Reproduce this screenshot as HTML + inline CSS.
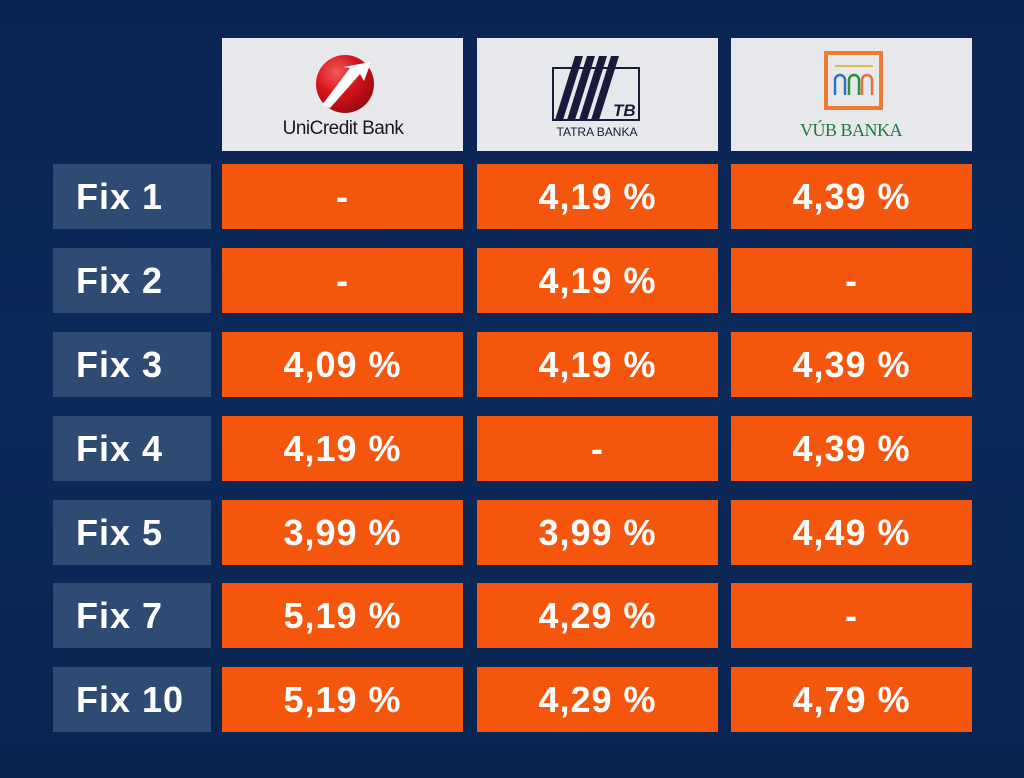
<!DOCTYPE html>
<html><head><meta charset="utf-8"><style>
*{margin:0;padding:0;box-sizing:border-box}
body{width:1024px;height:778px;overflow:hidden;background:linear-gradient(180deg,#0a2452 0%,#0b2a5a 50%,#0a2450 100%);font-family:"Liberation Sans",sans-serif;position:relative}
.b{position:absolute;height:65px;display:flex;align-items:center;justify-content:center;color:#fff;font-weight:bold;font-size:36px;letter-spacing:1px}
.o{background:#f5560e}
.l{background:#2f4b73;justify-content:flex-start;padding-left:23px;left:53px;width:158px}
.h{position:absolute;top:38px;height:113px;background:#e6e8ec;width:241px}
</style></head><body>
<div class="h" style="left:222px">
<svg width="241" height="113" viewBox="0 0 241 113">
<defs><radialGradient id="r" cx="0.35" cy="0.3" r="0.75"><stop offset="0" stop-color="#f25a5a"/><stop offset="0.5" stop-color="#d8141c"/><stop offset="1" stop-color="#9a0a10"/></radialGradient></defs>
<circle cx="123" cy="46" r="29" fill="url(#r)"/>
<path d="M100 67 L128 30 L121 29 L149 24 L142 43 L138 36 L108 70 Z" fill="#fff"/>
<text x="121" y="96" text-anchor="middle" font-family="Liberation Sans" font-size="19" fill="#1a1a1a" letter-spacing="-0.5">UniCredit Bank</text>
</svg></div>
<div class="h" style="left:477px">
<svg width="241" height="113" viewBox="0 0 241 113">
<rect x="76" y="30" width="86" height="52" fill="none" stroke="#1a1a3a" stroke-width="2"/>
<path d="M78 82 L98 18 L106 18 L86 82Z M90 82 L110 18 L118 18 L98 82Z M102 82 L122 18 L130 18 L110 82Z M114 82 L134 18 L142 18 L122 82Z" fill="#1a1a3a"/>
<text x="136" y="78" font-family="Liberation Sans" font-style="italic" font-weight="bold" font-size="17" fill="#1a1a3a">TB</text>
<text x="120" y="98" text-anchor="middle" font-family="Liberation Sans" font-size="12" fill="#1a1a3a">TATRA BANKA</text>
</svg></div>
<div class="h" style="left:731px">
<svg width="241" height="113" viewBox="0 0 241 113">
<rect x="95" y="15" width="55" height="55" fill="none" stroke="#f07a30" stroke-width="4"/>
<line x1="104" y1="28" x2="142" y2="28" stroke="#d8c040" stroke-width="2"/>
<path d="M104 57 V42 a5 5 0 0 1 10 0 V57" fill="none" stroke="#3070c0" stroke-width="2.5"/>
<path d="M118 57 V42 a5 5 0 0 1 10 0 V57" fill="none" stroke="#2a9040" stroke-width="2.5"/>
<path d="M131 57 V42 a5 5 0 0 1 10 0 V57" fill="none" stroke="#e07040" stroke-width="2.5"/>
<text x="120" y="98" text-anchor="middle" font-family="Liberation Serif" font-size="18" fill="#1e7a40" letter-spacing="-0.5">VÚB BANKA</text>
</svg></div>

<div class="b l" style="top:164px">Fix 1</div>
<div class="b o" style="top:164px;left:222px;width:241px">-</div>
<div class="b o" style="top:164px;left:477px;width:241px">4,19 %</div>
<div class="b o" style="top:164px;left:731px;width:241px">4,39 %</div>

<div class="b l" style="top:248px">Fix 2</div>
<div class="b o" style="top:248px;left:222px;width:241px">-</div>
<div class="b o" style="top:248px;left:477px;width:241px">4,19 %</div>
<div class="b o" style="top:248px;left:731px;width:241px">-</div>

<div class="b l" style="top:332px">Fix 3</div>
<div class="b o" style="top:332px;left:222px;width:241px">4,09 %</div>
<div class="b o" style="top:332px;left:477px;width:241px">4,19 %</div>
<div class="b o" style="top:332px;left:731px;width:241px">4,39 %</div>

<div class="b l" style="top:416px">Fix 4</div>
<div class="b o" style="top:416px;left:222px;width:241px">4,19 %</div>
<div class="b o" style="top:416px;left:477px;width:241px">-</div>
<div class="b o" style="top:416px;left:731px;width:241px">4,39 %</div>

<div class="b l" style="top:500px">Fix 5</div>
<div class="b o" style="top:500px;left:222px;width:241px">3,99 %</div>
<div class="b o" style="top:500px;left:477px;width:241px">3,99 %</div>
<div class="b o" style="top:500px;left:731px;width:241px">4,49 %</div>

<div class="b l" style="top:583px">Fix 7</div>
<div class="b o" style="top:583px;left:222px;width:241px">5,19 %</div>
<div class="b o" style="top:583px;left:477px;width:241px">4,29 %</div>
<div class="b o" style="top:583px;left:731px;width:241px">-</div>

<div class="b l" style="top:667px">Fix 10</div>
<div class="b o" style="top:667px;left:222px;width:241px">5,19 %</div>
<div class="b o" style="top:667px;left:477px;width:241px">4,29 %</div>
<div class="b o" style="top:667px;left:731px;width:241px">4,79 %</div>
</body></html>
